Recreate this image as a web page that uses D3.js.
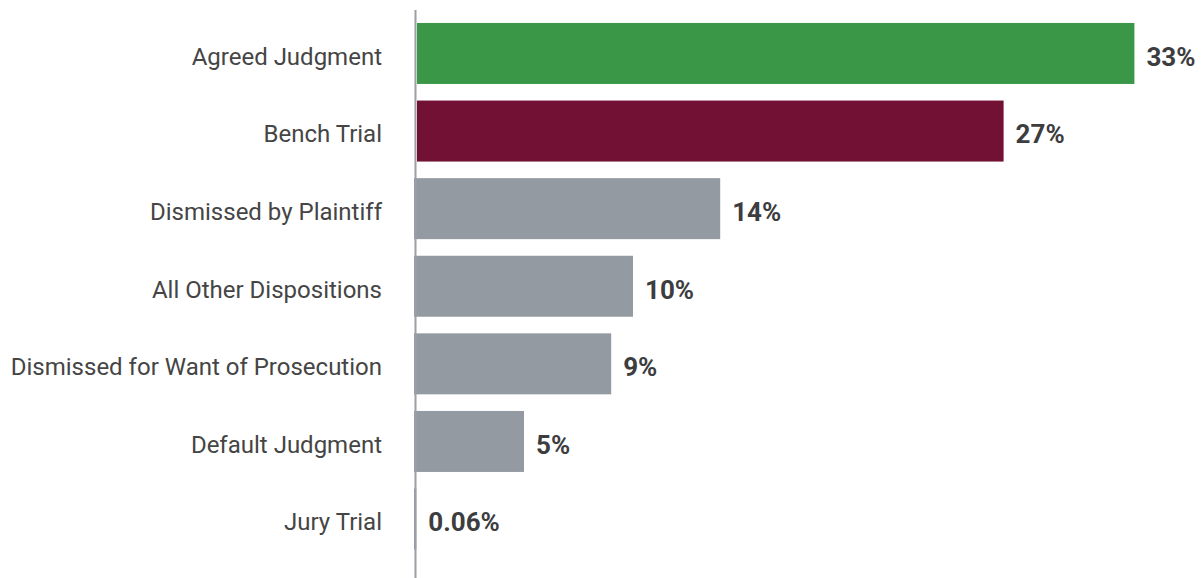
<!DOCTYPE html>
<html>
<head>
<meta charset="utf-8">
<script src="https://cdn.jsdelivr.net/npm/d3@7"></script>
<style>
  body { margin: 0; background: #fff; }
  svg { display: block; font-family: Roboto, "Open Sans", sans-serif; }
</style>
</head>
<body>
<div id="container"></div>
<script>
// chart data
const categories = [
  "Agreed Judgment",
  "Bench Trial",
  "Dismissed by Plaintiff",
  "All Other Dispositions",
  "Dismissed for Want of Prosecution",
  "Default Judgment",
  "Jury Trial"
];
const values = [33, 27, 14, 10, 9, 5, 0.06];
const valueLabels = ["33%", "27%", "14%", "10%", "9%", "5%", "0.06%"];
const barColors = ["#3a9748", "#721134", "#939aa1", "#939aa1", "#939aa1", "#939aa1", "#939aa1"];

const width = 1204;
const height = 578;
const marginLeft = 415;
const pxPerPct = 21.8;

const x = d3.scaleLinear()
    .domain([0, 1])
    .range([marginLeft, marginLeft + pxPerPct]);

const y = d3.scaleBand()
    .domain(categories)
    .range([15.2, 557.3])
    .paddingInner(0.214)
    .paddingOuter(0.1);

const svg = d3.create("svg")
    .attr("width", width)
    .attr("height", height)
    .attr("viewBox", [0, 0, width, height]);

// bars
svg.append("g")
  .selectAll()
  .data(values)
  .join("rect")
    .attr("x", (d, i) => i < 2 ? x(0) + 2 : x(0) - 1)
    .attr("y", (d, i) => y(categories[i]))
    .attr("width", (d, i) => Math.max(0, x(d) - x(0) - (i < 2 ? 2 : -1)))
    .attr("height", y.bandwidth())
    .attr("fill", (d, i) => barColors[i]);

// axis line (left)
svg.append("line")
    .attr("x1", x(0) + 0.5).attr("x2", x(0) + 0.5)
    .attr("y1", 10).attr("y2", height)
    .attr("stroke", "#9aa0a6")
    .attr("stroke-width", 2);

// category labels
svg.append("g")
  .selectAll()
  .data(categories)
  .join("text")
    .attr("x", x(0) - 33)
    .attr("y", d => y(d) + y.bandwidth() / 2 + 3)
    .attr("dy", "0.35em")
    .attr("text-anchor", "end")
    .attr("fill", "#454545")
    .attr("font-size", 24)
    .text(d => d);

// value labels
svg.append("g")
  .selectAll()
  .data(values)
  .join("text")
    .attr("x", d => x(d) + 12)
    .attr("y", (d, i) => y(categories[i]) + y.bandwidth() / 2 + 3)
    .attr("dy", "0.36em")
    .attr("fill", "#3d3d3f")
    .attr("font-size", 26)
    .attr("font-weight", "bold")
    .text((d, i) => valueLabels[i]);

container.append(svg.node());
</script>
</body>
</html>
